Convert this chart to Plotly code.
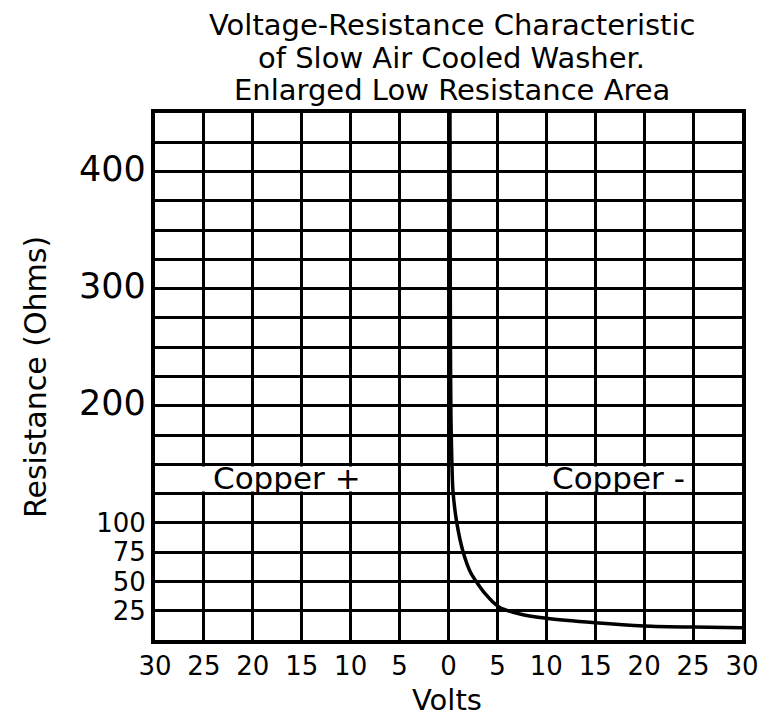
import plotly.graph_objects as go

# ---- data ----
volts = [0.15, 0.17, 0.2, 0.25, 0.32, 0.45, 0.85, 1.5, 2.3, 3.7, 5.2, 7.4, 10.0, 15.0, 20.0, 25.0, 30.0]
ohms = [450, 350, 250, 190, 160, 128, 100, 75, 57, 40, 28, 22, 18.5, 14.7, 12.0, 11.0, 10.5]

x_tick_vals = [-30, -25, -20, -15, -10, -5, 0, 5, 10, 15, 20, 25, 30]
x_tick_text = ["30", "25", "20", "15", "10", "5", "0", "5", "10", "15", "20", "25", "30"]

y_tick_vals = list(range(0, 451, 25))
y_big_labels = {200: "200", 300: "300", 400: "400"}
y_small_labels = {25: "25", 50: "50", 75: "75", 100: "100"}

title_lines = ["Voltage-Resistance Characteristic",
               "of Slow Air Cooled Washer.",
               "Enlarged Low Resistance Area"]
x_title = "Volts"
y_title = "Resistance (Ohms)"
region_labels = ["Copper +", "Copper -"]
region_centers = [-16.5, 17.4]

FONT = "DejaVu Sans"


def y_text(v):
    if v in y_big_labels:
        return '<span style="font-size:35px">%s</span>' % y_big_labels[v]
    if v in y_small_labels:
        return '<span style="font-size:26px">%s</span>' % y_small_labels[v]
    return ""


y_tick_text = [y_text(v) for v in y_tick_vals]

fig = go.Figure()
fig.add_trace(go.Scatter(x=volts, y=ohms, mode="lines",
                         line=dict(color="black", width=3.5, shape="spline", smoothing=0.6),
                         hoverinfo="skip", showlegend=False))

# white patches behind the region labels (hide gridlines there)
for x0, x1 in [(-25.6, -7.4), (8.4, 24.6)]:
    fig.add_shape(type="rect", xref="x", yref="y", x0=x0, x1=x1, y0=126.8, y1=148.2,
                  fillcolor="white", line=dict(width=0), layer="between")

for txt, cx in zip(region_labels, region_centers):
    fig.add_annotation(x=cx, y=138, xref="x", yref="y", text=txt, showarrow=False,
                       font=dict(family=FONT, size=31, color="black"), yanchor="middle")

# plot area in page pixels: x 155..742, y 113..640
for line, ypix in zip(title_lines, [25, 57.5, 90]):
    fig.add_annotation(x=(452 - 155) / 587, y=(640 - ypix) / 527, xref="paper", yref="paper",
                       text=line, showarrow=False, xanchor="center", yanchor="middle",
                       font=dict(family=FONT, size=29, color="black"))

fig.add_annotation(x=(447 - 155) / 587, y=(640 - 700) / 527, xref="paper", yref="paper",
                   text=x_title, showarrow=False, xanchor="center", yanchor="middle",
                   font=dict(family=FONT, size=29, color="black"))
fig.add_annotation(x=(35 - 155) / 587, y=(640 - 377) / 527, xref="paper", yref="paper",
                   text=y_title, showarrow=False, xanchor="center", yanchor="middle",
                   textangle=-90, font=dict(family=FONT, size=30, color="black"))

# page body has an 8px margin: compensate so plot area lands on the reference pixels
fig.update_layout(
    width=761, height=712,
    margin=dict(l=147, r=27, t=105, b=80, autoexpand=False),
    paper_bgcolor="white", plot_bgcolor="white",
    font=dict(family=FONT, color="black"),
)
fig.update_xaxes(range=[-30, 30], tickmode="array", tickvals=x_tick_vals, ticktext=x_tick_text,
                 showgrid=True, gridcolor="black", gridwidth=3, zeroline=False,
                 showline=True, linecolor="black", linewidth=4, mirror=True,
                 ticks="", tickfont=dict(size=26, family=FONT, color="black"))
fig.update_yaxes(range=[0, 450], tickmode="array", tickvals=y_tick_vals, ticktext=y_tick_text,
                 showgrid=True, gridcolor="black", gridwidth=3, zeroline=False,
                 showline=True, linecolor="black", linewidth=4, mirror=True,
                 ticks="", tickfont=dict(size=26, family=FONT, color="black"))

fig.write_html("out.html")
